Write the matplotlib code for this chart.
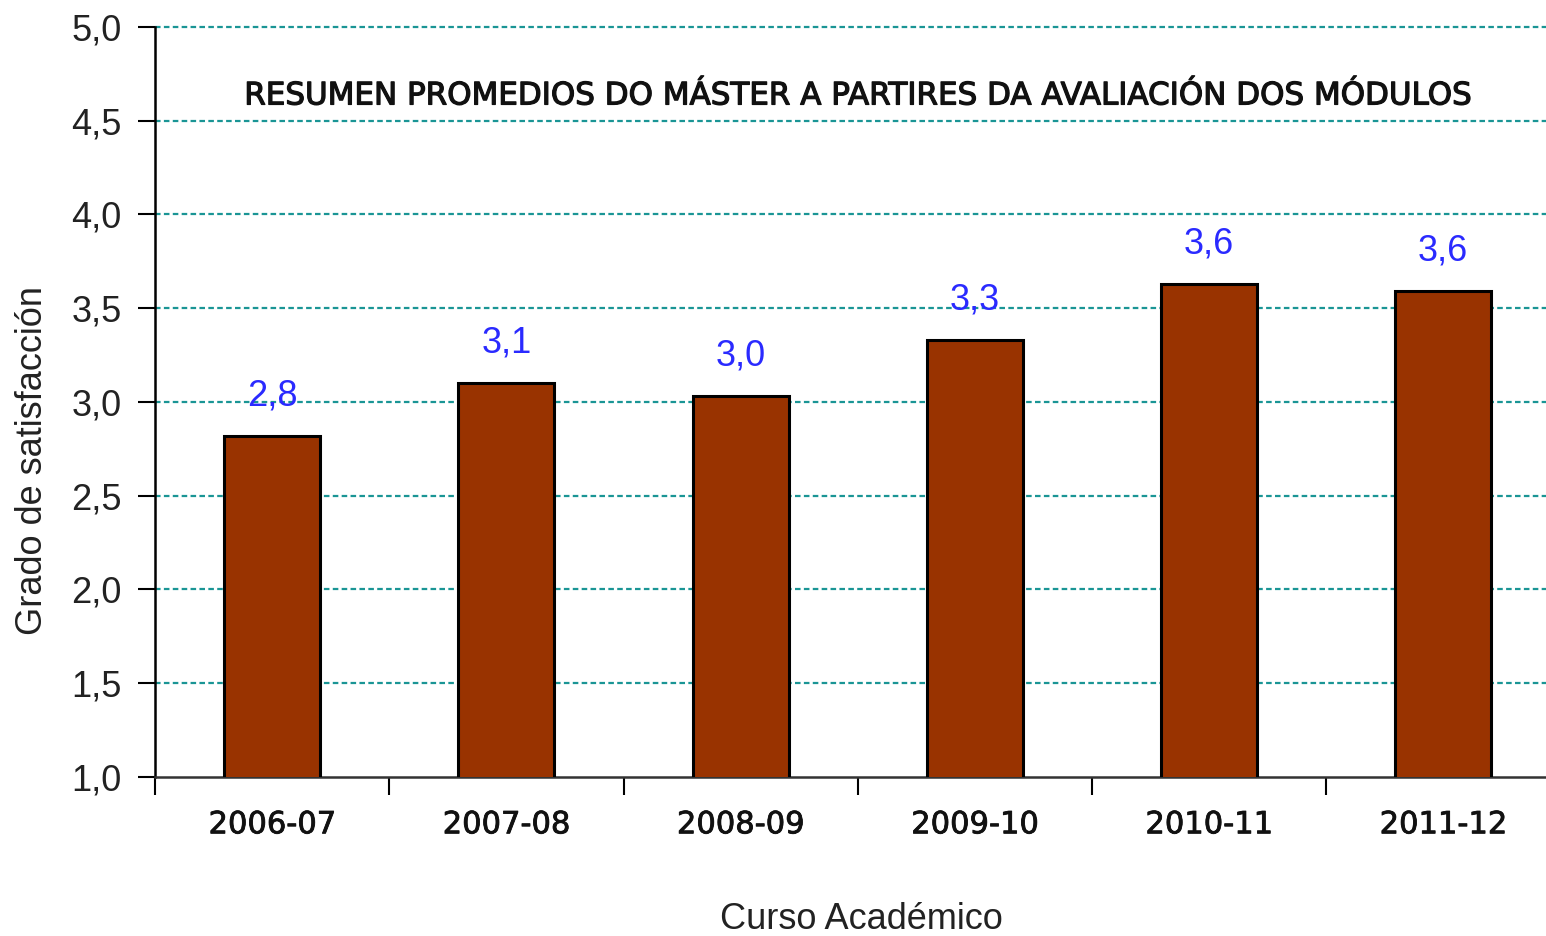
import numpy as np
from matplotlib import pyplot as plt
from matplotlib import patheffects as pe

# datos
cursos = ['2006-07', '2007-08', '2008-09', '2009-10', '2010-11', '2011-12']
promedios = [2.82, 3.10, 3.03, 3.33, 3.63, 3.59]
yticks = [1.0, 1.5, 2.0, 2.5, 3.0, 3.5, 4.0, 4.5, 5.0]

titulo = 'RESUMEN PROMEDIOS DO MÁSTER A PARTIRES DA AVALIACIÓN DOS MÓDULOS'

fig = plt.figure(figsize=(15.46, 9.36), dpi=100)
ax = fig.add_axes([0.1003, 0.1699, 0.909, 0.8013])

x = np.arange(len(cursos))
ax.bar(x, promedios, width=0.41, bottom=0, color='#993300',
       edgecolor='black', linewidth=2.2, zorder=3)

# etiquetas de valor sobre cada barra
for xi, v in zip(x, promedios):
    ax.text(xi, v + 0.12, f'{v:.1f}'.replace('.', ','), ha='center', va='bottom',
            color='#2a2aff', fontsize=26, family='Liberation Sans')

ax.set_xlim(-0.5, 5.5)
ax.set_ylim(1.0, 5.0)

ax.set_yticks(yticks)
ax.set_yticklabels([f'{t:.1f}'.replace('.', ',') for t in yticks],
                   fontsize=26, family='Liberation Sans', color='#222222')
ax.tick_params(axis='y', length=12, width=1.5, direction='out', pad=12)

ax.set_xticks(x)
ax.set_xticklabels(cursos, fontsize=22, family='DejaVu Sans', color='#111111')
ax.tick_params(axis='x', which='major', length=0, pad=24)
ax.set_xticks(np.arange(-0.5, 5.5, 1.0), minor=True)
ax.tick_params(axis='x', which='minor', length=13, width=1.5, direction='out')
grueso = [pe.withStroke(linewidth=0.6, foreground='#111111')]
for lbl in ax.get_xticklabels():
    lbl.set_path_effects(grueso)

# rejilla punteada
for t in yticks[1:]:
    ax.axhline(t, color='#1a9595', linestyle=(0, (2.5, 1.5)), linewidth=1.6,
               zorder=1, clip_on=False)

ax.spines['top'].set_visible(False)
ax.spines['right'].set_visible(False)
ax.spines['left'].set_linewidth(1.8)
ax.spines['bottom'].set_linewidth(1.8)
ax.spines['bottom'].set_color('#333333')

ax.text(0.5, 0.908, titulo, transform=ax.transAxes, ha='center', va='center',
        fontsize=22.3, family='DejaVu Sans Condensed', color='#111111',
        path_effects=[pe.withStroke(linewidth=0.9, foreground='#111111')])

fig.text(0.021, 0.508, 'Grado de satisfacción', rotation=90, ha='center', va='center',
         fontsize=26, family='Liberation Sans', color='#222222')
fig.text(0.557, 0.018, 'Curso Académico', ha='center', va='center',
         fontsize=26, family='Liberation Sans', color='#222222')

fig.savefig('out.png', dpi=100)
